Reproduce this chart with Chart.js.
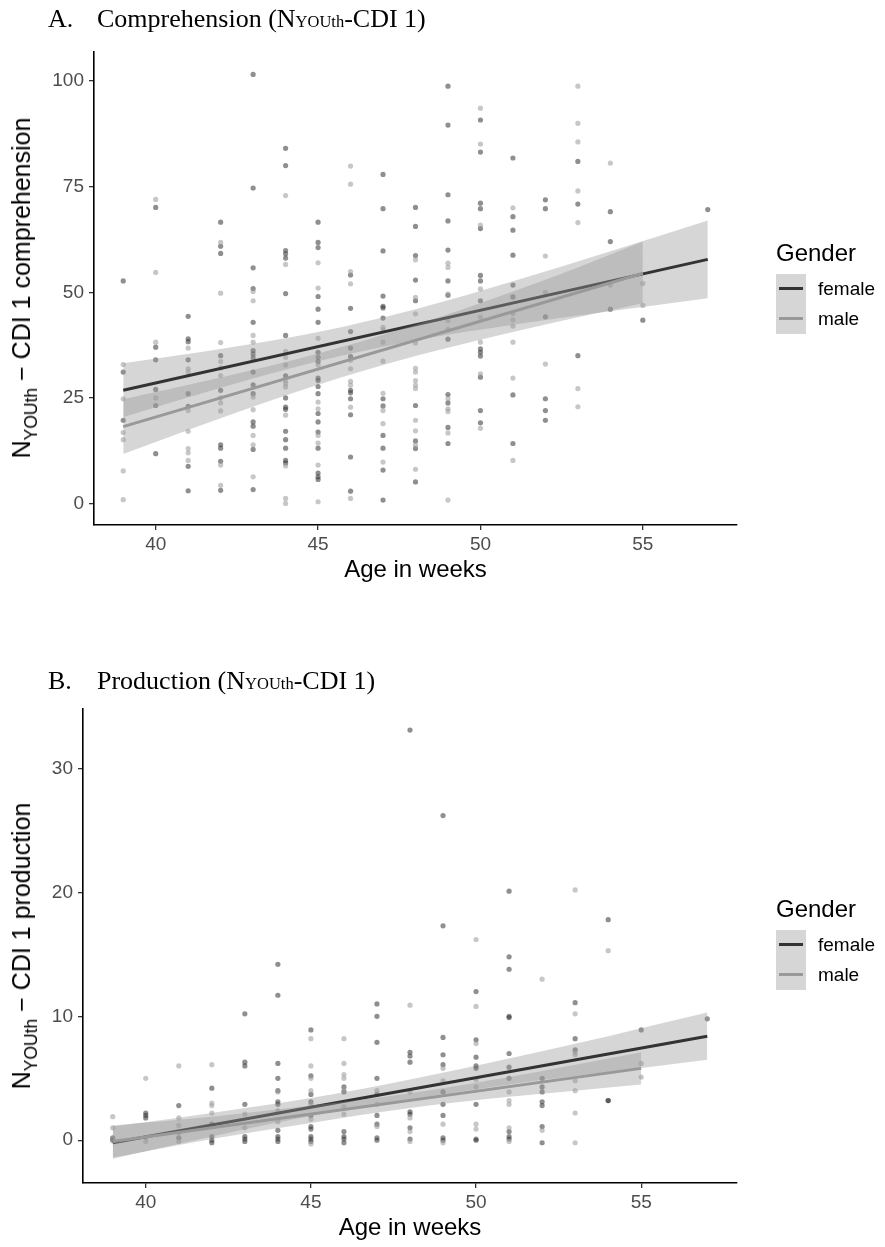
<!DOCTYPE html>
<html>
<head>
<meta charset="utf-8">
<script src="https://cdn.jsdelivr.net/npm/chart.js@4.4.0/dist/chart.umd.min.js"></script>
<style>
    body {
        margin: 0;
        width: 885px;
        height: 1247px;
        background: #fff;
        position: relative;
        overflow: hidden;
        font-family: "Liberation Sans", Arial, sans-serif;
    }
    canvas {
        position: absolute;
        left: 0;
    }
    .panel-title {
        position: absolute;
        left: 48px;
        font-family: "Liberation Serif", "Times New Roman", serif;
        font-size: 26px;
        line-height: 26px;
        white-space: nowrap;
        color: #000;
    }
    .panel-title .lbl {
        display: inline-block;
        width: 49px;
    }
    .panel-title .sc {
        font-size: 16.5px;
    }
    .ytitle {
        position: absolute;
        font-size: 25px;
        line-height: 25px;
        white-space: nowrap;
        color: #000;
        transform: translate(-50%, -50%) rotate(-90deg);
    }
    .ytitle .sub {
        font-size: 17.5px;
        position: relative;
        top: 7px;
    }
    .legend {
        position: absolute;
        left: 776px;
        color: #000;
    }
    .legend .ttl {
        font-size: 24px;
        line-height: 24px;
        margin-bottom: 9px;
    }
    .legend .item {
        height: 30px;
        display: flex;
        align-items: center;
        font-size: 19px;
    }
    .legend .key {
        width: 30px;
        height: 30px;
        background: #d6d6d6;
        position: relative;
        margin-right: 12px;
    }
    .legend .key span {
        position: absolute;
        left: 3px;
        right: 3px;
        top: 13px;
        height: 3px;
    }
</style>
</head>
<body>

<canvas id="compChart" width="885" height="600" style="top:0px"></canvas>
<canvas id="prodChart" width="885" height="587" style="top:660px"></canvas>

<div class="panel-title" style="top:6px"><span class="lbl">A.</span>Comprehension (N<span class="sc">YOUth</span>-CDI 1)</div>
<div class="panel-title" style="top:668px"><span class="lbl">B.</span>Production (N<span class="sc">YOUth</span>-CDI 1)</div>

<div class="ytitle" style="left:23px; top:288px">N<span class="sub">YOUth</span> − CDI 1 comprehension</div>
<div class="ytitle" style="left:23px; top:946px">N<span class="sub">YOUth</span> − CDI 1 production</div>

<div class="legend" style="top:241px">
    <div class="ttl">Gender</div>
    <div class="item"><div class="key"><span style="background:#333"></span></div>female</div>
    <div class="item"><div class="key"><span style="background:#999"></span></div>male</div>
</div>
<div class="legend" style="top:897px">
    <div class="ttl">Gender</div>
    <div class="item"><div class="key"><span style="background:#333"></span></div>female</div>
    <div class="item"><div class="key"><span style="background:#999"></span></div>male</div>
</div>

<script>
// ? tick labels
var weekTicks = [40, 45, 50, 55];
var compTicks = [0, 25, 50, 75, 100];
var prodTicks = [0, 10, 20, 30];

// ? A: comprehension scores per week of age
var compFemale = {
    39: [52.7, 31.1, 19.7],
    40: [70.1, 37.0, 34.0, 27.0, 23.2, 11.8],
    41: [44.3, 39.0, 38.3, 34.0, 26.0, 23.0, 8.8, 3.0],
    42: [66.6, 60.9, 59.2, 35.0, 26.8, 13.9, 13.1, 10.0, 3.1],
    43: [101.6, 74.7, 55.8, 50.9, 42.9, 36.2, 35.4, 34.5, 31.1, 28.1, 26.0, 19.3, 18.3, 12.8, 3.3],
    44: [84.1, 80.0, 59.9, 59.1, 58.1, 49.7, 39.8, 30.2, 25.0, 22.8, 22.3, 17.1, 15.1, 13.1, 10.2, 9.6],
    45: [66.6, 61.8, 60.6, 49.0, 46.0, 42.9, 35.8, 34.6, 33.6, 29.7, 29.1, 27.7, 26.0, 21.3, 19.3, 16.9, 13.1, 7.2, 6.3, 5.7],
    46: [54.1, 46.2, 40.7, 36.8, 34.8, 26.8, 26.2, 24.8, 21.0, 11.0, 2.9],
    47: [77.9, 69.8, 59.8, 49.1, 46.7, 46.3, 43.9, 24.8, 23.1, 16.1, 13.1, 7.9, 0.8],
    48: [70.1, 65.6, 58.7, 52.9, 48.0, 23.2, 14.8, 13.0, 5.1],
    49: [98.8, 89.6, 73.1, 66.9, 60.0, 52.7, 49.3, 38.9, 25.8, 23.8, 18.0, 14.2],
    50: [90.8, 83.2, 71.1, 69.8, 65.1, 54.0, 52.7, 48.0, 36.6, 35.8, 34.9, 29.9, 22.0, 19.1],
    51: [81.8, 67.9, 64.7, 58.8, 51.7, 48.9, 25.7, 14.2],
    52: [71.9, 69.8, 44.2, 24.8, 22.0, 19.7],
    53: [81.0, 70.9, 35.0],
    54: [69.1, 62.0, 46.0],
    55: [43.4],
    57: [69.6],
};
var compMale = {
    39: [32.9, 24.8, 16.8, 15.1, 7.7, 0.9],
    40: [72.0, 54.7, 38.2, 25.0],
    41: [36.8, 31.9, 31.1, 22.0, 17.1, 13.0, 12.0, 10.2],
    42: [61.8, 49.8, 38.1, 33.6, 32.1, 30.3, 25.0, 23.8, 21.9, 9.1, 4.3],
    43: [50.2, 48.0, 39.8, 38.2, 25.2, 22.2, 16.1, 13.9, 6.3],
    44: [72.9, 56.6, 36.0, 34.6, 32.8, 29.1, 28.4, 27.6, 20.9, 8.9, 1.2, 0.0],
    45: [57.0, 51.0, 39.1, 32.8, 24.0, 22.4, 16.1, 14.3, 9.1, 0.4],
    46: [79.9, 75.6, 54.9, 52.0, 33.9, 31.9, 28.9, 28.0, 22.8, 1.2],
    47: [41.7, 41.1, 38.2, 33.7, 26.1, 22.0, 18.9, 9.8],
    48: [57.7, 48.8, 44.9, 38.0, 32.0, 31.1, 29.1, 28.0, 27.2, 19.7, 17.2, 13.8, 8.1],
    49: [56.9, 55.9, 49.6, 43.3, 41.2, 24.8, 22.4, 21.8, 16.7, 0.8],
    50: [93.6, 85.1, 65.9, 50.8, 44.1, 38.2, 30.7, 17.8],
    51: [70.0, 45.0, 43.5, 42.0, 38.2, 29.7, 10.2],
    52: [58.6, 50.0, 33.0],
    53: [98.8, 90.0, 85.6, 74.0, 66.5, 27.2, 22.9],
    54: [80.6, 51.7],
    55: [52.1, 46.9],
};

// fitted lines + 95% bands
var compFitWeeksF = [39, 57];
var compFitF = [26.8, 57.8];
var compFitWeeksM = [39, 55];
var compFitM = [18.2, 54.5];
var compBandWeeksF = [39, 42, 45, 48, 51, 54, 57];
var compLoF = [20.4, 27.4, 33.7, 38.6, 42.3, 45.5, 48.6];
var compHiF = [33.2, 36.6, 40.6, 46.0, 52.6, 59.7, 67.0];
var compBandWeeksM = [39, 42, 45, 48, 51, 53, 55];
var compLoM = [11.7, 20.2, 28.1, 34.9, 40.6, 44.1, 47.4];
var compHiM = [24.7, 29.8, 35.5, 42.3, 50.2, 55.9, 62.0];

// ? B: production scores per week of age
var prodFemale = {
    39: [0.2, 0.0],
    40: [2.2, 2.0, 1.8],
    41: [2.8, 0.2],
    42: [4.2, 1.3, 0.3, 0.0, -0.2],
    43: [10.2, 6.3, 6.0, 2.9, 0.3, 0.1, -0.1],
    44: [14.2, 11.7, 6.2, 5.0, 4.0, 3.1, 2.9, 0.8, 0.3, 0.1, -0.1],
    45: [8.9, 5.2, 3.7, 3.1, 2.0, 1.1, 0.9, 0.3, 0.1, -0.1],
    46: [4.3, 3.9, 0.7, 0.3, 0.1, -0.2],
    47: [11.0, 10.0, 7.9, 5.0, 3.7, 2.0, 1.3, 0.2, 0.0],
    48: [33.1, 7.1, 6.8, 6.3, 2.3, 2.1, 1.0, 0.1],
    49: [26.2, 17.3, 8.3, 6.9, 6.1, 3.9, 2.9, 2.0, 0.2, 0.0],
    50: [12.0, 8.1, 6.7, 6.0, 5.8, 2.9, 0.1, 0.0],
    51: [20.1, 14.8, 13.8, 10.0, 9.9, 7.0, 5.9, 5.0, 0.7, 0.3, 0.1],
    52: [5.0, 4.3, 3.9, 3.1, 2.8, 1.1, -0.2],
    53: [11.1, 8.2, 7.3],
    54: [17.8, 3.2, 3.2],
    55: [8.9],
    57: [9.8],
};
var prodMale = {
    39: [1.9, 1.0, 0.1],
    40: [5.0, 0.2, -0.1],
    41: [6.0, 1.8, 1.2, 0.6, -0.1],
    42: [6.1, 3.0, 2.8, 2.2],
    43: [2.1, 1.0],
    44: [3.9, 2.4, 1.5],
    45: [8.2, 6.0, 5.0, 4.0, 2.9, 1.7, -0.3],
    46: [8.2, 6.2, 5.3, 5.0, 4.0, 2.7, 2.1],
    47: [4.0, 2.9, 1.1],
    48: [10.9, 3.9, 1.8, 0.7, -0.1],
    49: [5.8, 4.8, 1.3, -0.2],
    50: [16.2, 10.8, 7.8, 4.9, 4.3, 1.3, 0.9],
    51: [3.9, 3.2, 2.9, 1.0, -0.1],
    52: [13.0, 0.8],
    53: [20.2, 10.2, 7.1, 6.9, 4.8, 4.0, 2.2, -0.2],
    54: [15.3],
    55: [6.2, 5.1],
};

var prodFitWeeksF = [39, 57];
var prodFitF = [-0.2, 8.4];
var prodFitWeeksM = [39, 55];
var prodFitM = [-0.1, 5.8];
var prodBandWeeksF = [39, 42, 45, 48, 51, 54, 57];
var prodLoF = [-1.5, 0.3, 1.95, 3.3, 4.5, 5.5, 6.5];
var prodHiF = [1.1, 2.2, 3.4, 4.9, 6.6, 8.4, 10.3];
var prodBandWeeksM = [39, 42, 45, 48, 51, 53, 55];
var prodLoM = [-1.4, 0.1, 1.4, 2.6, 3.5, 4.0, 4.5];
var prodHiM = [1.2, 1.9, 2.8, 3.8, 5.1, 6.1, 7.1];

Chart.defaults.font.family = '"Liberation Sans", Arial, sans-serif';

function toPoints(byWeek) {
    let out = [];
    Object.keys(byWeek).forEach(function (w) {
        byWeek[w].forEach(function (v) {
            out.push({ x: Number(w), y: v });
        });
    });
    return out;
}

function pairs(xs, ys) {
    return xs.map(function (x, i) {
        return { x: x, y: ys[i] };
    });
}

var bandFill = "rgba(153,153,153,0.4)";

function lineSet(data, color, order) {
    return {
        type: "line",
        data: data,
        borderColor: color,
        borderWidth: 3,
        pointRadius: 0,
        fill: false,
        order: order,
    };
}

function bandSet(data, fill, order) {
    return {
        type: "line",
        data: data,
        borderWidth: 0,
        borderColor: "transparent",
        backgroundColor: bandFill,
        pointRadius: 0,
        cubicInterpolationMode: "monotone",
        fill: fill,
        order: order,
    };
}

function makePanel(elem, p) {
    return new Chart(elem, {
        type: "scatter",
        data: {
            datasets: [
                lineSet(pairs(p.fitWeeksM, p.fitM), "#999999", 0),
                bandSet(pairs(p.bandWeeksM, p.hiM), "+1", 1),
                bandSet(pairs(p.bandWeeksM, p.loM), false, 1),
                lineSet(pairs(p.fitWeeksF, p.fitF), "#333333", 2),
                bandSet(pairs(p.bandWeeksF, p.hiF), "+1", 3),
                bandSet(pairs(p.bandWeeksF, p.loF), false, 3),
                {
                    data: toPoints(p.male),
                    backgroundColor: "rgba(153,153,153,0.55)",
                    borderWidth: 0,
                    pointRadius: 2.6,
                    order: 4,
                },
                {
                    data: toPoints(p.female),
                    backgroundColor: "rgba(51,51,51,0.55)",
                    borderWidth: 0,
                    pointRadius: 2.6,
                    order: 5,
                },
            ],
        },
        options: {
            responsive: false,
            animation: false,
            layout: {
                padding: { top: p.padTop, right: 148, left: 0, bottom: 0 },
            },
            scales: {
                x: {
                    type: "linear",
                    min: 38.1,
                    max: 57.9,
                    afterBuildTicks: function (scale) {
                        scale.ticks = weekTicks.map(function (v) {
                            return { value: v };
                        });
                    },
                    afterFit: function (scale) {
                        scale.height = p.xHeight;
                    },
                    ticks: {
                        color: "#4d4d4d",
                        font: { size: 19 },
                        padding: 3,
                        maxRotation: 0,
                    },
                    grid: {
                        drawOnChartArea: false,
                        drawTicks: true,
                        tickLength: 5,
                        color: "#333",
                        lineWidth: 1.3,
                    },
                    border: { display: true, color: "#000", width: 1.6 },
                    title: {
                        display: true,
                        text: "Age in weeks",
                        color: "#000",
                        font: { size: 24 },
                        padding: { top: 0, bottom: p.titlePad },
                    },
                },
                y: {
                    min: p.yMin,
                    max: p.yMax,
                    afterBuildTicks: function (scale) {
                        scale.ticks = p.yTicks.map(function (v) {
                            return { value: v };
                        });
                    },
                    afterFit: function (scale) {
                        scale.width = p.yWidth;
                    },
                    ticks: {
                        color: "#4d4d4d",
                        font: { size: 19 },
                        padding: 5,
                    },
                    grid: {
                        drawOnChartArea: false,
                        drawTicks: true,
                        tickLength: 5,
                        color: "#333",
                        lineWidth: 1.3,
                    },
                    border: { display: true, color: "#000", width: 1.6 },
                },
            },
            plugins: {
                legend: { display: false },
                tooltip: { enabled: false },
            },
        },
    });
}

var compChart = makePanel(document.querySelector("#compChart"), {
    female: compFemale,
    male: compMale,
    fitWeeksF: compFitWeeksF, fitF: compFitF,
    fitWeeksM: compFitWeeksM, fitM: compFitM,
    bandWeeksF: compBandWeeksF, loF: compLoF, hiF: compHiF,
    bandWeeksM: compBandWeeksM, loM: compLoM, hiM: compHiM,
    yMin: -5.1, yMax: 106.9, yTicks: compTicks,
    padTop: 52, xHeight: 75, titlePad: 15, yWidth: 94,
});

var prodChart = makePanel(document.querySelector("#prodChart"), {
    female: prodFemale,
    male: prodMale,
    fitWeeksF: prodFitWeeksF, fitF: prodFitF,
    fitWeeksM: prodFitWeeksM, fitM: prodFitM,
    bandWeeksF: prodBandWeeksF, loF: prodLoF, hiF: prodHiF,
    bandWeeksM: prodBandWeeksM, loM: prodLoM, hiM: prodHiM,
    yMin: -3.45, yMax: 34.8, yTicks: prodTicks,
    padTop: 49, xHeight: 64, titlePad: 4, yWidth: 83,
});
</script>
</body>
</html>
